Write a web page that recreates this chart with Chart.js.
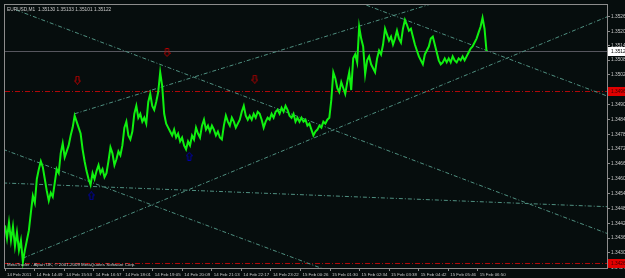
<!DOCTYPE html>
<html><head><meta charset="utf-8">
<script src="https://cdn.jsdelivr.net/npm/chart.js@4.4.1/dist/chart.umd.min.js"></script>
<style>html,body{margin:0;padding:0;background:#060d0d;overflow:hidden}#c{display:block}</style>
</head><body>
<canvas id="c" width="625" height="278"></canvas>
<script>
// ---- data ----
const symbolTitle = 'EURUSD,M1  1.35130 1.35133 1.35101 1.35122';
const copyrightText = 'MetaTrader - Alpari UK, \u00A9 2001-2009 MetaQuotes Software Corp.';
const timeTickBars = [0,64,128,192,256,320,384,448,512,576,640,704,768,832,896,960,1024];
const timeTickLabels = ['14 Feb 2011','14 Feb 14:49','14 Feb 15:53','14 Feb 16:57','14 Feb 18:01','14 Feb 19:05','14 Feb 20:09','14 Feb 21:13','14 Feb 22:17','14 Feb 23:22','15 Feb 00:26','15 Feb 01:30','15 Feb 02:34','15 Feb 03:38','15 Feb 04:42','15 Feb 05:46','15 Feb 06:50'];
const priceTicks = [1.35260,1.35200,1.35145,1.35085,1.35025,1.34965,1.34905,1.34845,1.34785,1.34725,1.34665,1.34605,1.34545,1.34485,1.34425,1.34365,1.34305,1.34245];
const sampleStepBars = 4.31;
const closePrices = [
1.34416,1.34364,1.34428,1.34356,1.34412,1.34332,1.34388,1.34316,1.34356,1.34268,
1.34316,1.34356,1.34396,1.34468,1.34536,1.34508,1.34604,1.34644,1.34676,1.34652,
1.34604,1.34556,1.34516,1.34548,1.34532,1.34588,1.34644,1.34628,1.34708,1.34748,
1.34692,1.34716,1.34740,1.34780,1.34812,1.34860,1.34836,1.34812,1.34788,1.34724,
1.34676,1.34636,1.34604,1.34580,1.34628,1.34604,1.34636,1.34660,1.34628,1.34644,
1.34612,1.34628,1.34676,1.34732,1.34708,1.34660,1.34684,1.34716,1.34700,1.34740,
1.34812,1.34836,1.34780,1.34764,1.34796,1.34868,1.34900,1.34852,1.34868,1.34836,
1.34852,1.34828,1.34916,1.34948,1.34900,1.34884,1.34916,1.34956,1.35036,1.34980,
1.34868,1.34828,1.34812,1.34796,1.34780,1.34804,1.34772,1.34788,1.34756,1.34772,
1.34740,1.34724,1.34756,1.34740,1.34780,1.34764,1.34812,1.34788,1.34772,1.34820,
1.34844,1.34804,1.34820,1.34796,1.34820,1.34804,1.34780,1.34796,1.34772,1.34764,
1.34820,1.34860,1.34836,1.34820,1.34852,1.34836,1.34812,1.34828,1.34844,1.34876,
1.34900,1.34860,1.34844,1.34860,1.34844,1.34868,1.34852,1.34876,1.34868,1.34844,
1.34812,1.34836,1.34852,1.34844,1.34868,1.34852,1.34876,1.34884,1.34868,1.34892,
1.34876,1.34900,1.34884,1.34860,1.34852,1.34868,1.34836,1.34852,1.34836,1.34852,
1.34836,1.34844,1.34820,1.34828,1.34804,1.34780,1.34796,1.34804,1.34820,1.34812,
1.34836,1.34828,1.34844,1.34852,1.34924,1.35036,1.35012,1.34972,1.34956,1.34996,
1.34972,1.34948,1.34996,1.35036,1.34964,1.35092,1.35108,1.35076,1.35220,1.35172,
1.35140,1.35028,1.35084,1.35100,1.35068,1.35052,1.35036,1.35092,1.35124,1.35108,
1.35148,1.35212,1.35188,1.35164,1.35180,1.35148,1.35172,1.35204,1.35172,1.35156,
1.35212,1.35248,1.35228,1.35204,1.35212,1.35180,1.35148,1.35124,1.35100,1.35084,
1.35068,1.35108,1.35124,1.35140,1.35172,1.35180,1.35148,1.35116,1.35084,1.35068,
1.35076,1.35092,1.35076,1.35092,1.35076,1.35100,1.35084,1.35076,1.35092,1.35084,
1.35100,1.35084,1.35100,1.35116,1.35132,1.35140,1.35156,1.35172,1.35196,1.35220,
1.35256,1.35212,1.35122];
const bidPrice = 1.35122;
const alertLevels = [1.34960, 1.34264];
// trend lines: start bar, start price, end bar, end price
const trendStartBars   = [24, 39, 151, 728, -4, -4];
const trendStartPrices = [1.35288, 1.34284, 1.34868, 1.35346, 1.34724, 1.34588];
const trendEndBars     = [1304, 1304, 987, 1304, 707, 1304];
const trendEndPrices   = [1.34384, 1.35260, 1.35349, 1.34940, 1.34228, 1.34492];
const upFractalBars = [157, 351, 541];
const upFractalPrices = [1.35004, 1.35116, 1.35008];
const downFractalBars = [187, 399];
const downFractalPrices = [1.34536, 1.34696];

// ---- styles ----
const BG = '#060d0d';
const TXT = '#c8c8c8';
const FONT = {family: 'Liberation Sans', size: 4.8};
const XFONT = {family: 'Liberation Sans', size: 4.4};
const AXISC = '#8c8c8c';

function arrowImg(color, up) {
  const c = document.createElement('canvas');
  c.width = 7; c.height = 9;
  const g = c.getContext('2d');
  g.strokeStyle = color; g.lineWidth = 1;
  g.beginPath();
  const pts = [[3.5,0.5],[6.5,4],[5,4],[5,8.5],[2,8.5],[2,4],[0.5,4]];
  pts.forEach((p, i) => { const y = up ? p[1] : 9 - p[1]; i ? g.lineTo(p[0], y) : g.moveTo(p[0], y); });
  g.closePath(); g.stroke();
  return c;
}

const priceData = closePrices.map((p, i) => ({x: i * sampleStepBars, y: p}));
const trendSets = trendStartBars.map((b, i) => ({
  type: 'line',
  data: [{x: b, y: trendStartPrices[i]}, {x: trendEndBars[i], y: trendEndPrices[i]}],
  borderColor: '#4f8f80', borderWidth: 1, borderDash: [4, 2, 1, 2],
  pointRadius: 0, clip: 0, order: 5
}));

const overlay = {
  id: 'overlay',
  beforeDraw(chart) {
    const ctx = chart.ctx; ctx.save();
    ctx.fillStyle = BG; ctx.fillRect(0, 0, chart.width, chart.height);
    ctx.restore();
  },
  beforeDatasetsDraw(chart) {
    const {ctx, chartArea: a, scales: {y}} = chart;
    ctx.save();
    const py = Math.round(y.getPixelForValue(bidPrice)) + 0.5;
    ctx.strokeStyle = '#56565e'; ctx.lineWidth = 1;
    ctx.beginPath(); ctx.moveTo(a.left, py); ctx.lineTo(a.right, py); ctx.stroke();
    ctx.setLineDash([5, 2, 1, 2]); ctx.strokeStyle = '#b00808';
    alertLevels.forEach(v => {
      const p = Math.round(y.getPixelForValue(v)) + 0.5;
      ctx.beginPath(); ctx.moveTo(a.left, p); ctx.lineTo(a.right, p); ctx.stroke();
    });
    ctx.restore();
  },
  afterDraw(chart) {
    const {ctx, chartArea: a, scales: {y}} = chart;
    ctx.save();
    ctx.strokeStyle = AXISC; ctx.lineWidth = 1;
    ctx.strokeRect(a.left - 0.5, a.top - 0.5, a.right - a.left + 1, a.bottom - a.top + 1);
    ctx.font = FONT.size + 'px ' + FONT.family;
    ctx.textBaseline = 'middle'; ctx.textAlign = 'left';
    const box = (v, fill, tc) => {
      const p = Math.round(y.getPixelForValue(v));
      ctx.fillStyle = fill; ctx.fillRect(a.right + 1, p - 4, chart.width - a.right, 9);
      ctx.fillStyle = tc; ctx.fillText(v.toFixed(5), a.right + 4, p + 0.5);
    };
    alertLevels.forEach(v => box(v, '#e00000', '#3a0000'));
    box(bidPrice, '#ffffff', '#000000');
    ctx.fillStyle = TXT; ctx.textBaseline = 'alphabetic';
    ctx.fillText(symbolTitle, a.left + 2, a.top + 6);
    ctx.font = XFONT.size + 'px ' + XFONT.family;
    ctx.fillText(copyrightText, a.left + 2, a.bottom - 2);
    ctx.restore();
  }
};

new Chart(document.getElementById('c'), {
  type: 'line',
  data: {
    datasets: [
      {data: priceData, borderColor: '#10f010', borderWidth: 2, pointRadius: 0, tension: 0, order: 1},
      ...trendSets,
      {type: 'scatter', data: upFractalBars.map((b, i) => ({x: b, y: upFractalPrices[i]})),
       pointStyle: arrowImg('#b40000', false), order: 0},
      {type: 'scatter', data: downFractalBars.map((b, i) => ({x: b, y: downFractalPrices[i]})),
       pointStyle: arrowImg('#0000a8', true), order: 0}
    ]
  },
  options: {
    responsive: false, animation: false, devicePixelRatio: 1,
    layout: {padding: {top: 2, left: 2, right: 0, bottom: 0}},
    plugins: {legend: {display: false}, tooltip: {enabled: false}},
    scales: {
      x: {
        type: 'linear', min: 0, max: 1304,
        afterBuildTicks: s => { s.ticks = timeTickBars.map(v => ({value: v})); },
        afterFit: s => { s.height = 10; },
        border: {display: false},
        grid: {drawOnChartArea: false, drawTicks: true, tickLength: 3, color: AXISC},
        ticks: {autoSkip: false, maxRotation: 0, align: 'start', labelOffset: 2, padding: 1,
                color: TXT, font: XFONT, callback: (v, i) => timeTickLabels[i]}
      },
      y: {
        position: 'right', min: 1.34244, max: 1.35308,
        afterBuildTicks: s => { s.ticks = priceTicks.map(v => ({value: v})); },
        afterFit: s => { s.width = 18; },
        border: {display: false},
        grid: {drawOnChartArea: false, drawTicks: true, tickLength: 3, color: AXISC},
        ticks: {autoSkip: false, padding: 1, color: TXT, font: FONT, callback: v => v.toFixed(5)}
      }
    }
  },
  plugins: [overlay]
});
</script>
</body></html>
